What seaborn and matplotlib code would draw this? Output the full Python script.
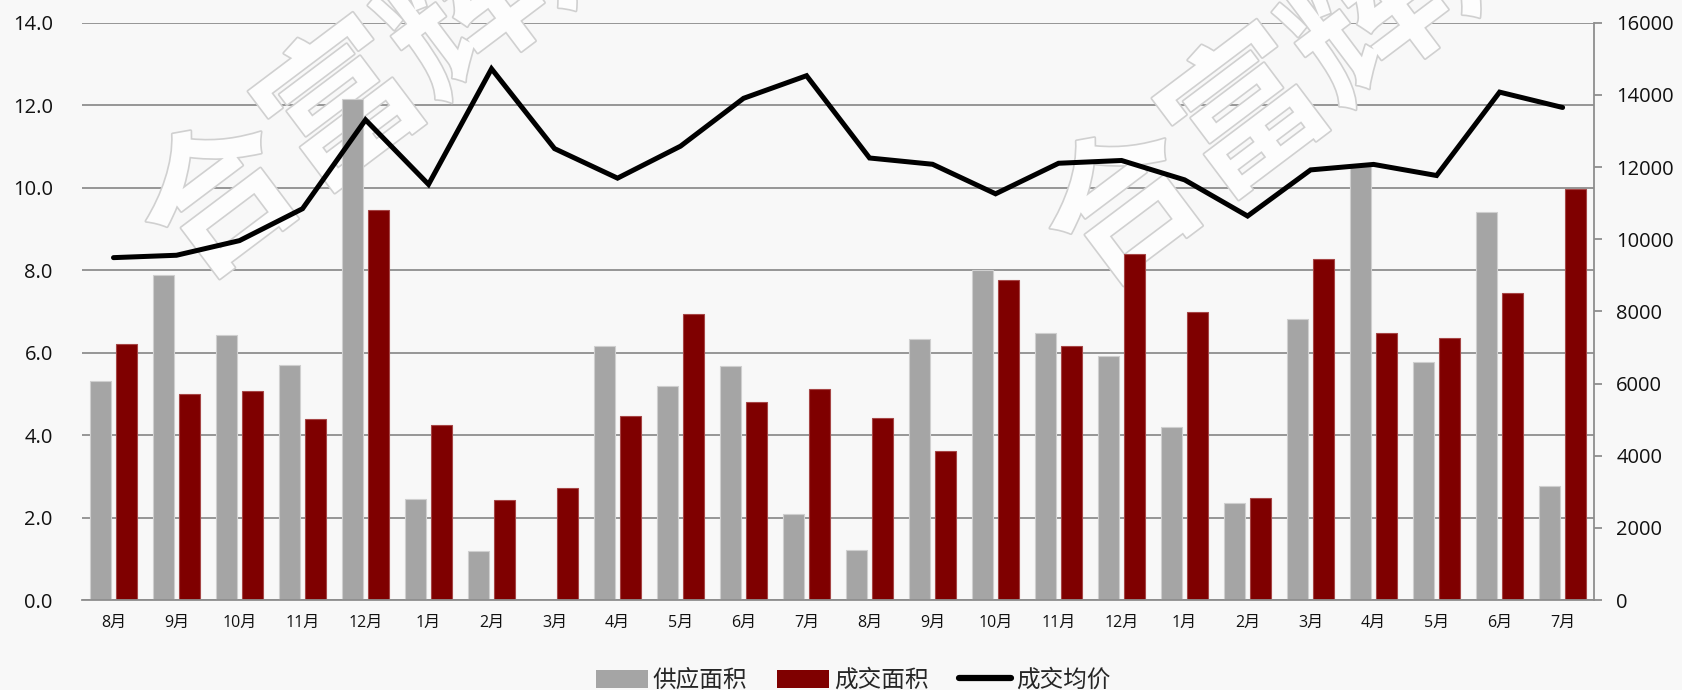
import numpy as np
import pandas as pd
import matplotlib
matplotlib.use("Agg")
import matplotlib.pyplot as plt
import matplotlib.patheffects as pe
from matplotlib.patches import Patch
from matplotlib.lines import Line2D
import seaborn as sns

# Monthly supply / transaction area (万㎡) and average price (元/㎡)
months = ["8月", "9月", "10月", "11月", "12月", "1月", "2月", "3月", "4月", "5月", "6月", "7月",
          "8月", "9月", "10月", "11月", "12月", "1月", "2月", "3月", "4月", "5月", "6月", "7月"]
supply = [5.31, 7.89, 6.43, 5.69, 12.15, 2.45, 1.20, 0.0, 6.16, 5.20, 5.68, 2.08,
          1.22, 6.34, 8.01, 6.48, 5.91, 4.19, 2.35, 6.81, 10.54, 5.78, 9.40, 2.77]
deal = [6.21, 5.00, 5.06, 4.40, 9.47, 4.24, 2.42, 2.71, 4.46, 6.93, 4.80, 5.11,
        4.42, 3.61, 7.75, 6.17, 8.38, 6.98, 2.47, 8.26, 6.48, 6.35, 7.44, 9.97]
price = [9490, 9556, 9962, 10846, 13310, 11520, 14724, 12512, 11693, 12580, 13906, 14533,
         12252, 12078, 11259, 12106, 12183, 11646, 10643, 11922, 12074, 11766, 14078, 13652]

series_names = ["供应面积", "成交面积", "成交均价"]
bar_colors = ["#A5A5A5", "#7F0000"]
edge_colors = ["#CFCFCF", "#A64545"]
line_color = "#000000"
bg = "#F8F8F8"
grid_c = "#8E8E8E"

sns.set_theme(style="white")
plt.rcParams["font.family"] = ["Open Sans", "Noto Sans CJK SC", "DejaVu Sans"]

idx = np.arange(len(months))
df = pd.DataFrame({
    "idx": np.concatenate([idx, idx]),
    "series": [series_names[0]] * len(idx) + [series_names[1]] * len(idx),
    "value": supply + deal,
})

fig = plt.figure(figsize=(16.82, 6.90), dpi=100, facecolor=bg)
ax = fig.add_axes([0.04875, 0.1304, 0.8990, 0.8366])
ax.set_facecolor(bg)

sns.barplot(data=df, x="idx", y="value", hue="series", hue_order=series_names[:2],
            palette=bar_colors, width=0.84, gap=0.2, saturation=1, legend=False,
            linewidth=0.8, ax=ax, zorder=2)
n = len(idx)
for i, bar in enumerate(ax.patches):
    bar.set_edgecolor(edge_colors[0] if i < n else edge_colors[1])

ax.set_xlim(-0.5, n - 0.5)
ax.set_ylim(0, 14)
ax.set_yticks(np.arange(0, 14.1, 2))
ax.set_yticklabels([f"{v:.1f}" for v in np.arange(0, 14.1, 2)])
ax.set_xticks(idx)
ax.set_xticklabels(months)
ax.set_xlabel("")
ax.set_ylabel("")
ax.yaxis.grid(True, color=grid_c, linewidth=1.3, zorder=0)
ax.xaxis.grid(False)
ax.set_axisbelow(True)
ax.tick_params(axis="y", length=0, pad=21, labelsize=14.5, labelcolor="#111111")
ax.tick_params(axis="x", length=0, pad=11, labelsize=11.5, labelcolor="#111111")
for side in ["top", "left", "right"]:
    ax.spines[side].set_visible(False)
ax.spines["bottom"].set_color(grid_c)
ax.spines["bottom"].set_linewidth(1.3)

# Average price on secondary axis
ax2 = ax.twinx()
sns.lineplot(x=idx, y=price, ax=ax2, color=line_color, linewidth=3.6,
             solid_capstyle="round", solid_joinstyle="miter", legend=False)
ax2.set_ylim(0, 16000)
ax2.set_yticks(np.arange(0, 16001, 2000))
ax2.set_ylabel("")
ax2.tick_params(axis="y", direction="out", length=6, width=1.3, color=grid_c,
                pad=10, labelsize=14.5, labelcolor="#111111")
for side in ["top", "left", "bottom"]:
    ax2.spines[side].set_visible(False)
ax2.spines["right"].set_color(grid_c)
ax2.spines["right"].set_linewidth(1.3)

# Watermark
for cx, cy in [(0.2414, 0.905), (0.7788, 0.895)]:
    ax.text(cx, cy, "合富辉煌", transform=fig.transFigure, ha="center", va="center",
            rotation=37, rotation_mode="anchor", fontsize=110, fontweight="bold",
            family=["Noto Sans CJK SC"], color="#FDFDFD", zorder=1, clip_on=False,
            path_effects=[pe.Stroke(linewidth=2.4, foreground="#D0D0D0"), pe.Normal()])

handles = [Patch(facecolor=bar_colors[0], edgecolor="none"),
           Patch(facecolor=bar_colors[1], edgecolor="none"),
           Line2D([0], [0], color=line_color, linewidth=4.5, solid_capstyle="round")]
fig.legend(handles, series_names, loc="center", bbox_to_anchor=(853 / 1682, 1 - 681 / 690),
           ncol=3, frameon=False, fontsize=17, handlelength=2.2, handleheight=0.8,
           handletextpad=0.2, columnspacing=1.3)

fig.savefig("out.png", dpi=100, facecolor=bg)
